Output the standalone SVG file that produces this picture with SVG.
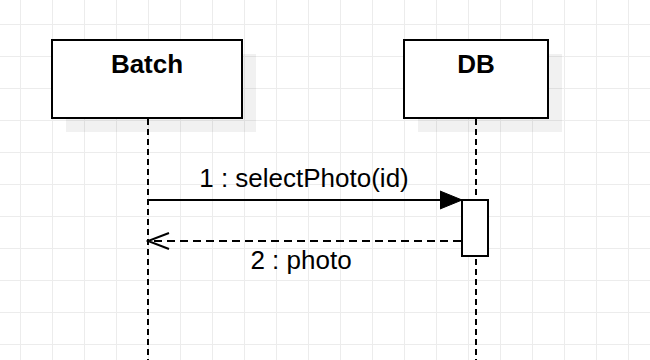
<svg xmlns="http://www.w3.org/2000/svg" width="650" height="360" viewBox="0 0 650 360">
<defs>
<style>
.grid line{stroke:#ececec;stroke-width:1}
.box{fill:#fff;stroke:#000;stroke-width:2}
.shadow{fill:#000;fill-opacity:0.055}
.title{font-family:"Liberation Sans",Arial,sans-serif;font-weight:bold;font-size:26px;text-anchor:middle;fill:#000}
.lbl{font-family:"Liberation Sans",Arial,sans-serif;font-size:26px;text-anchor:middle;fill:#000}
.life{stroke:#000;stroke-width:2;stroke-dasharray:6 4;fill:none}
.msg{stroke:#000;stroke-width:2;fill:none}
.ret{stroke:#000;stroke-width:2;fill:none;stroke-dasharray:8 5}
</style>
<marker id="filled" markerUnits="userSpaceOnUse" markerWidth="24" markerHeight="20" refX="22" refY="10" orient="auto">
<path d="M0,1 L22,10 L0,19 Z" fill="#000" stroke="#000" stroke-width="1"/>
</marker>
<marker id="open" markerUnits="userSpaceOnUse" markerWidth="24" markerHeight="20" refX="22" refY="10" orient="auto">
<path d="M1,2 L22,10 L1,18" fill="none" stroke="#000" stroke-width="2"/>
</marker>
</defs>
<rect width="650" height="360" fill="#fff"/>
<g class="grid">
<line x1="20.5" y1="0" x2="20.5" y2="360"/><line x1="52.5" y1="0" x2="52.5" y2="360"/><line x1="84.5" y1="0" x2="84.5" y2="360"/><line x1="116.5" y1="0" x2="116.5" y2="360"/><line x1="148.5" y1="0" x2="148.5" y2="360"/><line x1="180.5" y1="0" x2="180.5" y2="360"/><line x1="212.5" y1="0" x2="212.5" y2="360"/><line x1="244.5" y1="0" x2="244.5" y2="360"/><line x1="276.5" y1="0" x2="276.5" y2="360"/><line x1="308.5" y1="0" x2="308.5" y2="360"/><line x1="340.5" y1="0" x2="340.5" y2="360"/><line x1="372.5" y1="0" x2="372.5" y2="360"/><line x1="404.5" y1="0" x2="404.5" y2="360"/><line x1="436.5" y1="0" x2="436.5" y2="360"/><line x1="468.5" y1="0" x2="468.5" y2="360"/><line x1="500.5" y1="0" x2="500.5" y2="360"/><line x1="532.5" y1="0" x2="532.5" y2="360"/><line x1="564.5" y1="0" x2="564.5" y2="360"/><line x1="596.5" y1="0" x2="596.5" y2="360"/><line x1="628.5" y1="0" x2="628.5" y2="360"/>
<line x1="0" y1="24.5" x2="650" y2="24.5"/><line x1="0" y1="56.5" x2="650" y2="56.5"/><line x1="0" y1="88.5" x2="650" y2="88.5"/><line x1="0" y1="120.5" x2="650" y2="120.5"/><line x1="0" y1="152.5" x2="650" y2="152.5"/><line x1="0" y1="184.5" x2="650" y2="184.5"/><line x1="0" y1="216.5" x2="650" y2="216.5"/><line x1="0" y1="248.5" x2="650" y2="248.5"/><line x1="0" y1="280.5" x2="650" y2="280.5"/><line x1="0" y1="312.5" x2="650" y2="312.5"/><line x1="0" y1="344.5" x2="650" y2="344.5"/>
</g>
<g id="lifelines">
<line class="life" x1="148" y1="119" x2="148" y2="360"/>
<line class="life" x1="476" y1="119" x2="476" y2="360"/>
</g>
<g id="batch">
<rect class="shadow" x="66" y="54" width="190" height="78"/>
<rect class="box" x="52" y="40" width="190" height="78"/>
<text class="title" x="147" y="73">Batch</text>
</g>
<g id="db">
<rect class="shadow" x="418" y="54" width="144" height="78"/>
<rect class="box" x="404" y="40" width="144" height="78"/>
<text class="title" x="476" y="73">DB</text>
</g>
<g id="activation">
<rect class="box" x="462" y="200" width="26" height="56"/>
</g>
<g id="connectors">
<line class="msg" x1="148" y1="200" x2="462" y2="200" marker-end="url(#filled)"/>
<line class="ret" x1="461" y1="241" x2="148" y2="241" marker-end="url(#open)"/>
</g>
<g id="labels">
<text class="lbl" x="304" y="187">1 : selectPhoto(id)</text>
<text class="lbl" x="301" y="269">2 : photo</text>
</g>
</svg>
